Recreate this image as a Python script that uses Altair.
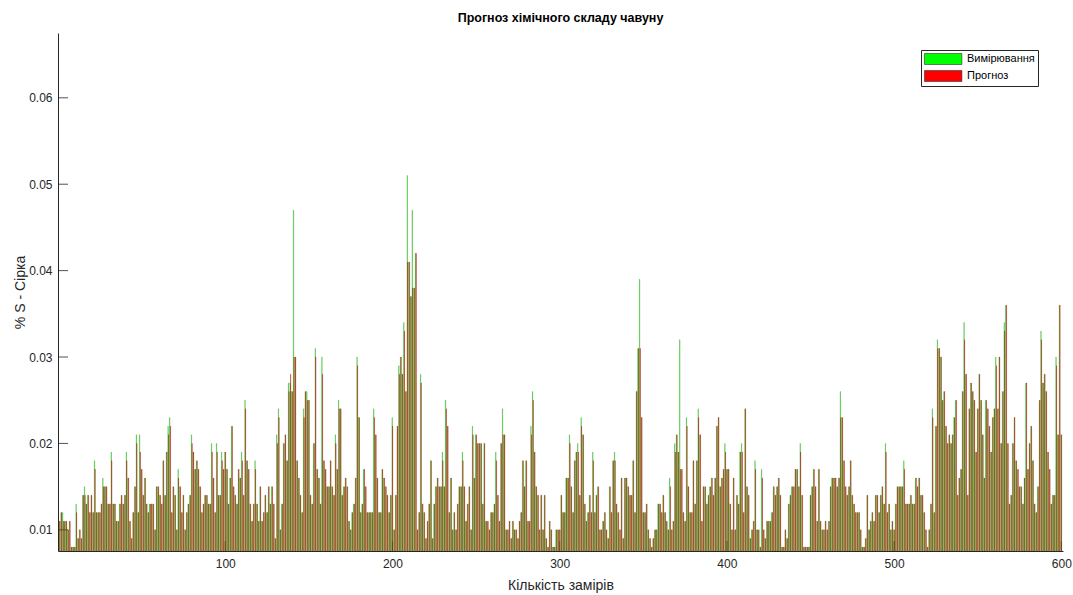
import altair as alt
import pandas as pd

SERIES = ["Вимірювання", "Прогноз"]
COLORS = ["#00ff00", "#ff0000"]

# Sulfur content per measurement, in thousandths of a percent (0.001 %)
MEASURED = [
    11, 12, 12, 11, 11, 10, 11, 8, 8, 8,
    13, 9, 10, 9, 14, 15, 13, 14, 12, 14,
    12, 18, 12, 12, 12, 13, 16, 15, 15, 13,
    13, 19, 13, 13, 11, 11, 13, 14, 13, 14,
    19, 16, 11, 9, 12, 15, 21, 12, 21, 17,
    14, 16, 13, 12, 13, 13, 13, 10, 15, 15,
    14, 13, 18, 14, 19, 22, 23, 12, 15, 14,
    10, 17, 15, 12, 14, 10, 12, 13, 14, 21,
    19, 17, 18, 17, 15, 12, 13, 14, 14, 13,
    13, 20, 16, 12, 20, 14, 14, 19, 17, 19,
    17, 13, 16, 22, 15, 14, 13, 17, 16, 19,
    14, 25, 18, 17, 13, 11, 13, 18, 13, 11,
    15, 11, 12, 14, 12, 15, 13, 15, 13, 9,
    21, 24, 10, 13, 20, 21, 18, 27, 27, 26,
    47, 30, 18, 16, 14, 12, 24, 26, 26, 25,
    14, 13, 20, 31, 17, 16, 13, 30, 18, 17,
    15, 15, 18, 15, 14, 21, 17, 25, 24, 14,
    15, 16, 15, 11, 10, 12, 13, 16, 30, 23,
    12, 13, 17, 15, 12, 12, 12, 12, 24, 21,
    16, 12, 12, 17, 16, 15, 14, 12, 14, 23,
    10, 14, 22, 29, 30, 28, 34, 26, 51, 41,
    37, 47, 38, 42, 10, 12, 28, 13, 12, 9,
    11, 13, 18, 9, 13, 15, 16, 15, 15, 19,
    15, 25, 22, 12, 16, 10, 12, 10, 13, 15,
    15, 19, 15, 11, 13, 15, 10, 22, 16, 21,
    20, 20, 20, 13, 20, 11, 11, 10, 12, 12,
    13, 19, 14, 11, 20, 24, 21, 10, 10, 11,
    9, 11, 10, 10, 9, 11, 12, 18, 15, 18,
    11, 11, 22, 26, 19, 15, 14, 10, 14, 10,
    14, 9, 8, 11, 10, 8, 8, 10, 10, 10,
    14, 12, 12, 16, 16, 21, 15, 12, 18, 19,
    20, 14, 23, 21, 13, 11, 12, 14, 12, 19,
    12, 14, 15, 10, 10, 11, 12, 10, 9, 15,
    12, 18, 19, 13, 12, 10, 16, 9, 16, 16,
    15, 14, 14, 18, 12, 26, 31, 39, 23, 12,
    12, 13, 10, 9, 8, 9, 10, 10, 13, 13,
    12, 14, 12, 11, 10, 16, 10, 11, 20, 21,
    19, 32, 17, 12, 11, 23, 15, 12, 12, 18,
    13, 18, 24, 21, 11, 15, 15, 13, 14, 15,
    16, 14, 16, 22, 23, 15, 16, 17, 20, 17,
    17, 13, 10, 16, 10, 14, 13, 19, 20, 12,
    24, 15, 14, 9, 10, 11, 18, 10, 10, 8,
    17, 10, 9, 11, 11, 11, 12, 15, 14, 15,
    16, 14, 8, 8, 10, 9, 13, 14, 15, 15,
    17, 17, 15, 20, 14, 8, 8, 8, 8, 14,
    15, 17, 15, 11, 17, 11, 10, 10, 11, 10,
    11, 15, 16, 16, 16, 15, 16, 26, 23, 18,
    15, 14, 15, 18, 14, 13, 12, 12, 12, 10,
    8, 8, 9, 14, 10, 11, 12, 11, 14, 14,
    12, 14, 15, 13, 20, 12, 13, 10, 11, 10,
    13, 15, 15, 15, 15, 18, 13, 13, 13, 14,
    13, 13, 16, 15, 16, 14, 14, 12, 10, 8,
    10, 13, 24, 12, 22, 32, 31, 30, 25, 26,
    22, 20, 21, 20, 21, 23, 25, 14, 16, 17,
    26, 34, 28, 14, 24, 27, 26, 25, 19, 24,
    28, 25, 21, 16, 25, 24, 22, 19, 23, 24,
    30, 24, 30, 20, 26, 34, 36, 20, 13, 14,
    20, 23, 18, 17, 15, 15, 13, 16, 27, 17,
    20, 22, 18, 13, 12, 15, 25, 33, 27, 28,
    26, 19, 17, 13, 14, 14, 30, 21, 36, 21,
]

PREDICTED = [
    11, 12, 11, 11, 11, 10, 11, 8, 8, 8,
    12, 9, 10, 9, 14, 14, 13, 14, 12, 14,
    12, 17, 12, 12, 12, 13, 15, 15, 15, 13,
    13, 18, 13, 13, 11, 11, 13, 14, 13, 14,
    18, 16, 11, 9, 12, 15, 20, 12, 19, 17,
    14, 16, 13, 12, 13, 13, 13, 10, 15, 15,
    14, 13, 18, 14, 19, 21, 22, 12, 15, 14,
    10, 16, 15, 12, 14, 10, 12, 13, 14, 20,
    19, 17, 18, 17, 15, 12, 13, 14, 14, 13,
    13, 19, 16, 12, 19, 14, 14, 18, 17, 19,
    17, 13, 16, 22, 15, 14, 13, 17, 16, 18,
    14, 24, 18, 17, 13, 11, 13, 17, 13, 11,
    15, 11, 12, 14, 12, 15, 13, 15, 13, 9,
    20, 23, 10, 13, 20, 21, 18, 26, 28, 26,
    30, 30, 18, 16, 14, 12, 23, 26, 25, 25,
    14, 13, 20, 30, 17, 16, 13, 28, 18, 17,
    15, 15, 18, 15, 14, 20, 17, 24, 24, 14,
    15, 16, 15, 11, 10, 12, 13, 16, 29, 23,
    12, 13, 17, 15, 12, 12, 12, 12, 23, 21,
    16, 12, 12, 17, 16, 15, 14, 12, 14, 22,
    10, 14, 22, 28, 30, 28, 33, 26, 41, 41,
    37, 38, 38, 42, 10, 12, 27, 13, 12, 9,
    11, 13, 18, 9, 13, 15, 16, 15, 15, 18,
    15, 24, 22, 12, 16, 10, 12, 10, 13, 15,
    15, 18, 15, 11, 13, 15, 10, 21, 16, 21,
    20, 20, 20, 13, 20, 11, 11, 10, 12, 12,
    13, 18, 14, 11, 20, 21, 21, 10, 10, 11,
    9, 11, 10, 10, 9, 11, 12, 18, 15, 18,
    11, 11, 21, 25, 19, 15, 14, 10, 14, 10,
    14, 9, 8, 11, 10, 8, 8, 10, 10, 10,
    14, 12, 12, 16, 16, 20, 15, 12, 18, 19,
    19, 14, 22, 21, 13, 11, 12, 14, 12, 18,
    12, 14, 15, 10, 10, 11, 12, 10, 9, 15,
    12, 18, 18, 13, 12, 10, 16, 9, 16, 16,
    15, 14, 14, 18, 12, 26, 31, 31, 23, 12,
    12, 13, 10, 9, 8, 9, 10, 10, 13, 13,
    12, 14, 12, 11, 10, 15, 10, 11, 19, 21,
    19, 17, 17, 12, 11, 22, 15, 12, 12, 18,
    13, 18, 23, 21, 11, 15, 15, 13, 14, 15,
    16, 14, 16, 22, 23, 15, 16, 17, 19, 17,
    17, 13, 10, 16, 10, 14, 13, 19, 19, 12,
    24, 15, 14, 9, 10, 11, 17, 10, 10, 8,
    16, 10, 9, 11, 11, 11, 12, 15, 14, 15,
    16, 14, 8, 8, 10, 9, 13, 14, 15, 15,
    17, 17, 15, 19, 14, 8, 8, 8, 8, 14,
    15, 17, 15, 11, 17, 11, 10, 10, 11, 10,
    11, 15, 16, 16, 16, 15, 16, 23, 23, 18,
    15, 14, 15, 18, 14, 13, 12, 12, 12, 10,
    8, 8, 9, 14, 10, 11, 12, 11, 14, 14,
    12, 14, 15, 13, 19, 12, 13, 10, 11, 10,
    13, 15, 15, 15, 15, 17, 13, 13, 13, 14,
    13, 13, 16, 15, 16, 14, 14, 12, 10, 8,
    10, 13, 23, 12, 22, 31, 31, 30, 25, 26,
    22, 20, 21, 20, 21, 23, 25, 14, 16, 17,
    26, 32, 28, 14, 24, 27, 26, 25, 19, 24,
    28, 25, 21, 16, 25, 24, 22, 19, 23, 24,
    29, 24, 30, 20, 26, 33, 36, 20, 13, 14,
    20, 23, 18, 17, 15, 15, 13, 16, 27, 17,
    20, 22, 18, 13, 12, 15, 25, 32, 27, 28,
    26, 19, 17, 13, 14, 14, 29, 21, 36, 21,
]

Y_TICKS = [0.01, 0.02, 0.03, 0.04, 0.05, 0.06]
X_TICKS = [100, 200, 300, 400, 500, 600]

rows = []
for i, (m, p) in enumerate(zip(MEASURED, PREDICTED), start=1):
    rows.append({"n": i, "series": SERIES[0], "value": m / 1000})
    rows.append({"n": i, "series": SERIES[1], "value": p / 1000})
df = pd.DataFrame(rows)

W, H = 1005, 518
FONT = "Liberation Sans"
INK = "#262626"

x_scale = alt.Scale(domain=[0, 601], nice=False, zero=False)
y_scale = alt.Scale(domain=[0.00755, 0.0675], nice=False, zero=False)

x_axis = alt.Axis(
    values=X_TICKS, format="d", ticks=False, grid=False,
    labelFontSize=12, labelColor=INK, labelPadding=7, labelFont=FONT,
    domainColor=INK, domainWidth=1,
    title="Кількість замірів", titleFontSize=14, titleFontWeight="normal",
    titleColor=INK, titleFont=FONT, titleX=W / 2, titleY=34, titleBaseline="middle",
)
y_axis = alt.Axis(
    values=Y_TICKS, format=".2f", ticks=False, grid=False,
    labelFontSize=12, labelColor=INK, labelPadding=6, labelFont=FONT,
    domainColor=INK, domainWidth=1,
    title="% S - Сірка", titleFontSize=14, titleFontWeight="normal",
    titleColor=INK, titleFont=FONT, titleX=-38, titleY=H / 2,
    titleAngle=270, titleAlign="center", titleBaseline="middle",
)

# inward tick marks, drawn under the bars
y_ticks = alt.Chart(pd.DataFrame({"t": Y_TICKS})).mark_rule(
    color=INK, strokeWidth=0.8
).encode(
    y=alt.Y("t:Q", scale=y_scale, axis=y_axis),
    x=alt.value(0), x2=alt.value(10),
)
x_ticks = alt.Chart(pd.DataFrame({"t": X_TICKS})).mark_rule(
    color=INK, strokeWidth=0.8
).encode(
    x=alt.X("t:Q", scale=x_scale, axis=x_axis),
    y=alt.value(H), y2=alt.value(H - 10),
)

# grouped bars: measurement left of each index, prediction right, thin dark edges
bars = alt.Chart(df).transform_calculate(
    x0=f"datum.n + (datum.series == '{SERIES[0]}' ? -0.33 : 0.0)"
).transform_calculate(
    x1="datum.x0 + 0.33"
).mark_bar(clip=True, stroke="#303000", strokeWidth=0.22, strokeOpacity=0.7).encode(
    x=alt.X("x0:Q", scale=x_scale, axis=x_axis),
    x2="x1:Q",
    y=alt.Y("value:Q", scale=y_scale, axis=y_axis),
    y2=alt.datum(0),
    color=alt.Color(
        "series:N",
        scale=alt.Scale(domain=SERIES, range=COLORS),
        legend=alt.Legend(
            title=None, orient="none", legendX=863, legendY=17,
            # wide flat patch: 11 px tall, ~37 px wide, starting at the symbol's left edge
            symbolType="M-1,-1H5.8V1H-1Z", symbolSize=121,
            symbolStrokeColor="#303030", symbolStrokeWidth=0.6, symbolOpacity=1,
            labelFontSize=11, labelFont=FONT, labelColor="#000000", labelOffset=31,
            strokeColor=INK, fillColor="white", padding=3, rowPadding=3,
            labelLimit=200,
        ),
    ),
)

chart = alt.layer(y_ticks, x_ticks, bars).properties(
    width=W, height=H,
    padding={"left": 58, "top": 33, "right": 10, "bottom": 44},
    autosize="none",
    background="white",
    title=alt.TitleParams(
        "Прогноз хімічного складу чавуну", fontSize=12.5, fontWeight="bold",
        font=FONT, color="#000000", anchor="middle", offset=9,
    ),
).configure_view(stroke="transparent")

chart.save("out.html", embed_options={"renderer": "svg", "actions": False})
